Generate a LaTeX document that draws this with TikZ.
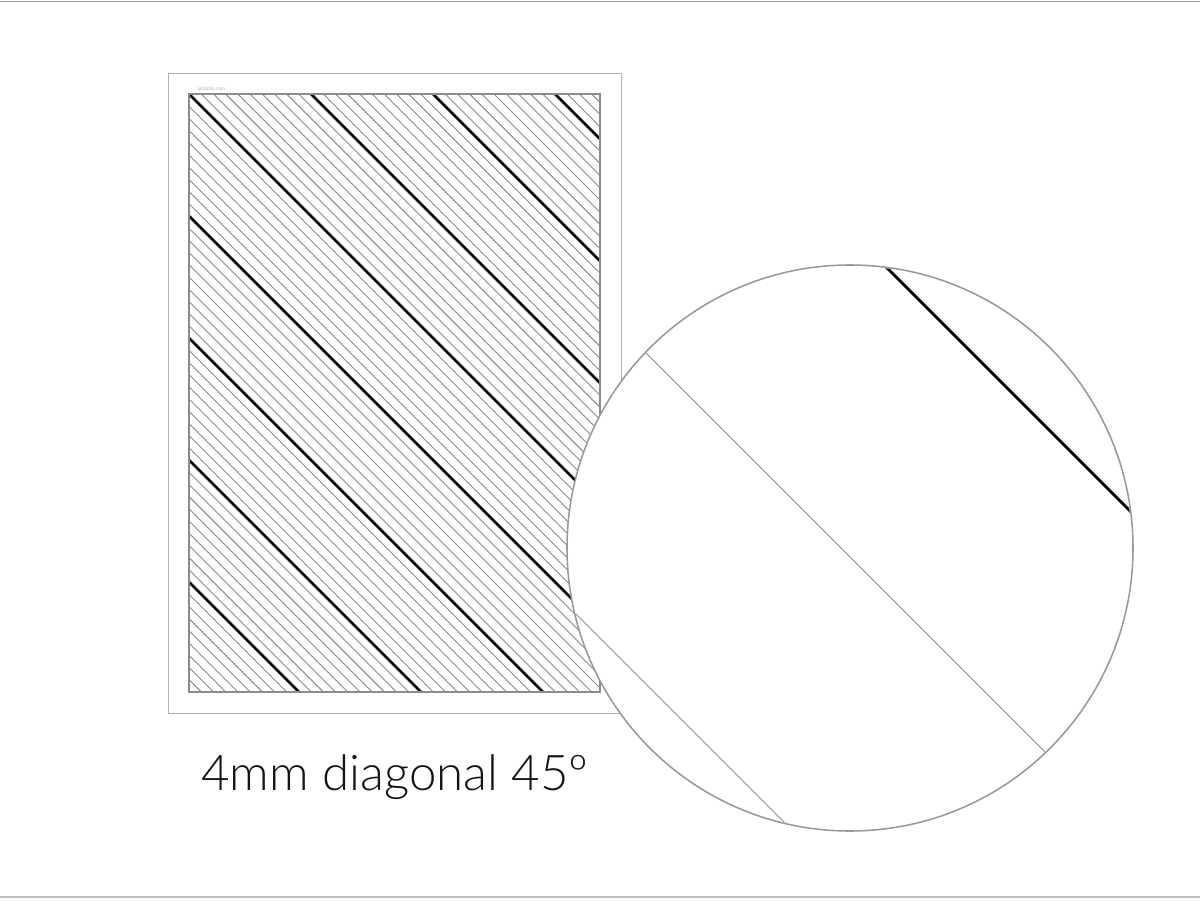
\documentclass[tikz,border=0pt]{standalone}
\usepackage{fontspec}
\newfontfamily\capfont{Lato Light}
\newfontfamily\tinyfont{Lato}
\begin{document}
\begin{tikzpicture}[x=0.025cm,y=-0.025cm,
  framerule/.style={draw=black!40,line width=0.8pt},
  pageedge/.style={draw=black!30,line width=0.6pt},
  gridedge/.style={draw=black!45,line width=1pt},
  thinline/.style={draw=black!45,line width=0.65pt},
  thickline/.style={draw=black,line width=2pt},
  lensedge/.style={draw=black!40,line width=1.1pt},
  caption/.style={font=\capfont\fontsize{35}{40}\selectfont,text=black!92,inner sep=0pt},
  watermark/.style={font=\tinyfont\fontsize{3.5}{4}\selectfont,text=black!30,inner sep=0pt}]
\useasboundingbox (0,0) rectangle (1200,900);
\fill[white] (0,0) rectangle (1200,900);
% frame lines
\draw[framerule] (0,1.5) -- (1200,1.5);
\draw[draw=black!25,line width=1pt] (0,897) -- (1200,897);
% page
\draw[pageedge] (168,73) rectangle (621,713);
\node[watermark,anchor=base west] (wm) at (198,90) {gridzzly.com};
% pattern
\begin{scope}
\clip (189,94) rectangle (600,692);
\foreach \k in {-42,...,50}{
  \pgfmathsetmacro{\c}{-95+12.2*\k}
  \pgfmathtruncatemacro{\m}{mod(\k+100,10)}
  \ifnum\m=0
    \draw[thickline] (100,100+\c) -- (800,800+\c);
  \else
    \draw[thinline] (100,100+\c) -- (800,800+\c);
  \fi
}
\end{scope}
\draw[gridedge] (189,94) rectangle (600,692);
% caption
\node[caption,anchor=base] (cap) at (395,790) {4mm diagonal 45º};
% magnifier
\fill[white] (850,548) circle[radius=283];
\begin{scope}
\clip (850,548) circle[radius=282];
\draw[thinline] (500,500-293) -- (1200,1200-293);
\draw[thinline] (500,500+38) -- (1200,1200+38);
\draw[thickline] (800,800-619) -- (1200,1200-619);
\end{scope}
\draw[lensedge] (850,548) circle[radius=283];
\end{tikzpicture}
\end{document}
